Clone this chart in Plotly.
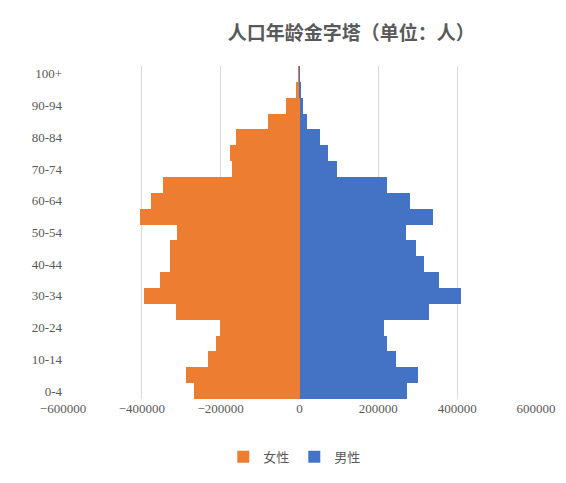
import plotly.graph_objects as go

ages = ['0-4', '5-9', '10-14', '15-19', '20-24', '25-29', '30-34', '35-39', '40-44',
        '45-49', '50-54', '55-59', '60-64', '65-69', '70-74', '75-79', '80-84',
        '85-89', '90-94', '95-99', '100+']
female = [-268000, -289000, -233000, -213000, -202000, -314000, -395000, -354000, -329000,
          -329000, -311000, -405000, -377000, -347000, -170000, -177000, -162000,
          -81000, -33000, -8000, -2000]
male = [273000, 301000, 245000, 223000, 215000, 329000, 410000, 354000, 316000,
        296000, 271000, 339000, 281000, 223000, 96000, 73000, 51000,
        18000, 8000, 2000, 500]
xticks = [-600000, -400000, -200000, 0, 200000, 400000, 600000]
xlabels = ['−600000', '−400000', '−200000', '0', '200000', '400000', '600000']

fig = go.Figure()
fig.add_trace(go.Bar(y=ages, x=female, orientation='h', name='女性',
                     marker=dict(color='#ED7D31', line=dict(width=0))))
fig.add_trace(go.Bar(y=ages, x=male, orientation='h', name='男性',
                     marker=dict(color='#4472C4', line=dict(width=0))))

# page body adds 8px, so the figure is a bit smaller than the window
fig.update_layout(
    width=558, height=475,
    barmode='relative', bargap=0,
    plot_bgcolor='white', paper_bgcolor='white',
    margin=dict(l=55, r=30, t=58, b=83),
    title=dict(text='<b>人口年龄金字塔（单位：人）</b>', x=0.615, xanchor='center', y=0.96,
               font=dict(family='Noto Sans CJK SC', size=19, color='#595959')),
    font=dict(family='Liberation Serif', size=13, color='#595959'),
    legend=dict(orientation='h', x=0.49, xanchor='center', y=-0.125, itemwidth=30,
                font=dict(family='Noto Sans CJK SC', size=13, color='#595959')),
    showlegend=True,
)
fig.update_xaxes(range=[-600000, 600000], tickvals=xticks, ticktext=xlabels,
                 showgrid=True, gridcolor='#D9D9D9', zeroline=False, automargin=False)
fig.update_yaxes(categoryorder='array', categoryarray=ages, automargin=False,
                 tickvals=ages[::2], ticks='', showline=False, ticksuffix='  ')

fig.write_html("out.html")
